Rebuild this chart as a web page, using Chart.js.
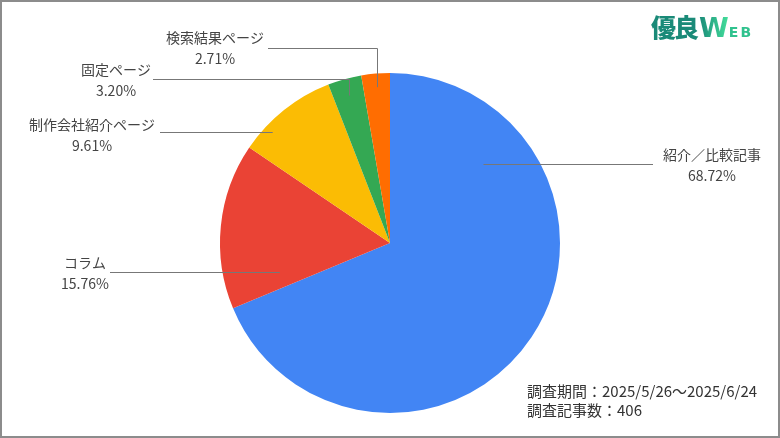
<!DOCTYPE html>
<html lang="ja">
<head>
<meta charset="utf-8">
<script src="https://cdn.jsdelivr.net/npm/chart.js@4"></script>
<style>
    body { margin: 0; background: #fff; }
    .wrap { position: relative; width: 780px; height: 438px; background: #fff; font-family: "Noto Sans CJK JP", "Noto Sans", sans-serif; }
    .chart { position: absolute; left: 0; top: 0; width: 780px; height: 438px; }
    .frame { position: absolute; left: 0; top: 0; width: 780px; height: 438px; box-sizing: border-box; border: 2px solid #8c8c8c; pointer-events: none; }
    .logo { position: absolute; left: 651px; top: 8px; white-space: nowrap; font-weight: 900; }
    .logo .jp { font-size: 25px; color: #1a8a78; letter-spacing: -2px; }
    .logo .w { font-family: "DejaVu Sans", sans-serif; font-size: 27px; font-weight: 700; margin-left: 2px; background: linear-gradient(90deg, #1a8a78, #44e09c); -webkit-background-clip: text; background-clip: text; color: transparent; }
    .logo .eb { font-family: "DejaVu Sans", sans-serif; font-size: 14px; font-weight: 700; color: #30c28e; letter-spacing: 2px; }
    .note { position: absolute; left: 527px; top: 381px; font-size: 15px; line-height: 19px; color: #333; }
</style>
</head>
<body>
<div class="wrap">
    <div class="chart"><canvas id="pieChart"></canvas></div>
    <div class="logo"><span class="jp">優良</span><span class="w">W</span><span class="eb">EB</span></div>
    <div class="note">調査期間：2025/5/26〜2025/6/24<br>調査記事数：406</div>
    <div class="frame"></div>
</div>
<script>
// データ
const categories = ['紹介／比較記事', 'コラム', '制作会社紹介ページ', '固定ページ', '検索結果ページ'];
const shares = [68.72, 15.76, 9.61, 3.20, 2.71];
const sliceColors = ['#4285F4', '#EA4335', '#FBBC04', '#34A853', '#FF6D01'];

// ラベルの配置 (中心からの相対位置)
const labelLayout = [
    { tx: 322, ty: -88, lineY: -79, lineX: 263, inner: 0.72 },
    { tx: -305, ty: 20, lineY: 29, lineX: -280, inner: 0.67 },
    { tx: -298, ty: -118, lineY: -111, lineX: -230, inner: 0.95 },
    { tx: -274, ty: -173, lineY: -164, lineX: -237, inner: 0.9, elbow: true },
    { tx: -175, ty: -205, lineY: -195, lineX: -122, inner: 0.92, elbow: true }
];

const leaderLabels = {
    id: 'leaderLabels',
    afterDatasetsDraw(chart) {
        const ctx = chart.ctx;
        const meta = chart.getDatasetMeta(0);
        ctx.save();
        meta.data.forEach((arc, i) => {
            const p = arc.getProps(['x', 'y', 'startAngle', 'endAngle', 'outerRadius'], true);
            const L = labelLayout[i];
            const cx = p.x, cy = p.y, r = p.outerRadius;
            const mid = (p.startAngle + p.endAngle) / 2;
            const ly = Math.round(cy + L.lineY) + 0.5;
            ctx.strokeStyle = '#777';
            ctx.lineWidth = 1;
            ctx.beginPath();
            if (L.elbow) {
                const ix = Math.round(cx + Math.cos(mid) * r * L.inner) + 0.5;
                const iy = cy + Math.sin(mid) * r * L.inner;
                ctx.moveTo(ix, iy);
                ctx.lineTo(ix, ly);
                ctx.lineTo(cx + L.lineX, ly);
            } else {
                const rr = r * L.inner;
                const side = Math.cos(mid) >= 0 ? 1 : -1;
                const ix = cx + side * Math.sqrt(Math.max(rr * rr - L.lineY * L.lineY, 0));
                ctx.moveTo(ix, ly);
                ctx.lineTo(cx + L.lineX, ly);
            }
            ctx.stroke();

            ctx.fillStyle = '#444';
            ctx.font = '14px "Noto Sans CJK JP", "Noto Sans", sans-serif';
            ctx.textAlign = 'center';
            ctx.textBaseline = 'middle';
            ctx.fillText(categories[i], cx + L.tx, cy + L.ty);
            ctx.fillText(shares[i].toFixed(2) + '%', cx + L.tx, cy + L.ty + 21);
        });
        ctx.restore();
    }
};

function createPieChart() {
    const ctx = document.getElementById('pieChart').getContext('2d');
    new Chart(ctx, {
        type: 'pie',
        data: {
            labels: categories,
            datasets: [{
                data: shares,
                backgroundColor: sliceColors,
                borderWidth: 0
            }]
        },
        options: {
            responsive: true,
            maintainAspectRatio: false,
            animation: false,
            layout: { padding: { top: 73, bottom: 25, left: 0, right: 0 } },
            plugins: {
                legend: { display: false },
                tooltip: { enabled: false }
            }
        },
        plugins: [leaderLabels]
    });
}

createPieChart();
</script>
</body>
</html>
